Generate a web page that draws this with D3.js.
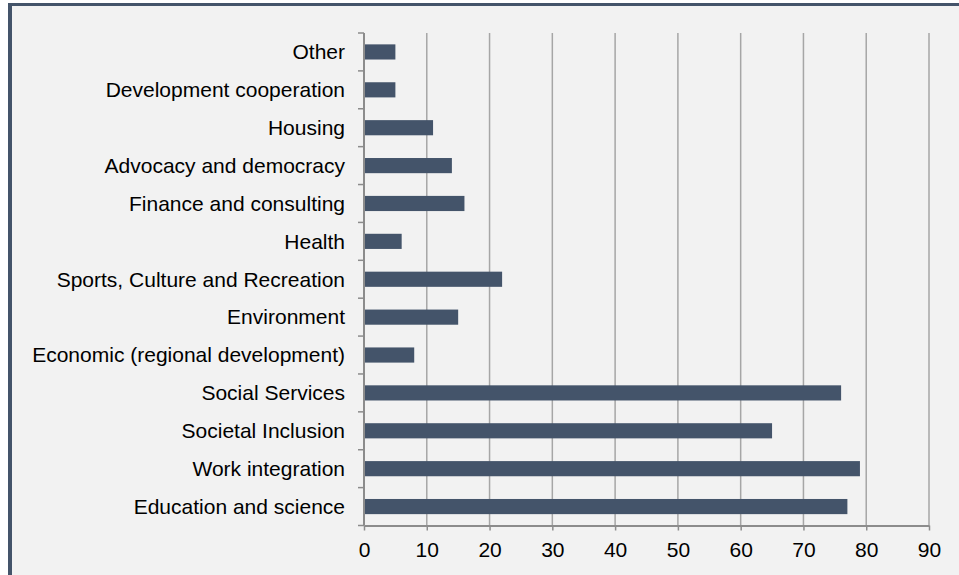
<!DOCTYPE html>
<html>
<head>
<meta charset="utf-8">
<script src="https://cdn.jsdelivr.net/npm/d3@7"></script>
<style>
  html, body { margin: 0; padding: 0; background: #ffffff; }
  svg { display: block; }
</style>
</head>
<body>
<div id="chart"></div>
<script>
// Fields of activity, listed top to bottom
const categories = [
  "Other",
  "Development cooperation",
  "Housing",
  "Advocacy and democracy",
  "Finance and consulting",
  "Health",
  "Sports, Culture and Recreation",
  "Environment",
  "Economic (regional development)",
  "Social Services",
  "Societal Inclusion",
  "Work integration",
  "Education and science"
];
const counts = [5, 5, 11, 14, 16, 6, 22, 15, 8, 76, 65, 79, 77];
const xTicks = [0, 10, 20, 30, 40, 50, 60, 70, 80, 90];

const W = 959, H = 575;
const margin = { left: 364, right: 30, top: 33, bottom: 49.5 };

const svg = d3.select("#chart").append("svg")
  .attr("width", W).attr("height", H);

// Panel background and frame
svg.append("rect").attr("x", 8).attr("y", 3).attr("width", W - 8).attr("height", H - 3)
  .attr("fill", "#f2f2f2");
svg.append("rect").attr("x", 8).attr("y", 3).attr("width", 4).attr("height", H - 3)
  .attr("fill", "#44546a");
svg.append("rect").attr("x", 8).attr("y", 3).attr("width", W - 8).attr("height", 3)
  .attr("fill", "#44546a");

const x = d3.scaleLinear().domain([0, 90]).range([margin.left, W - margin.right]);
const y = d3.scaleBand().domain(categories)
  .range([margin.top, H - margin.bottom]).paddingInner(0.6).paddingOuter(0.3);
const band = d3.scaleBand().domain(categories).range([margin.top, H - margin.bottom]);

const data = categories.map((c, i) => ({ name: c, value: counts[i] }));

// Vertical gridlines
svg.append("g").selectAll("line").data(xTicks.slice(1)).join("line")
  .attr("x1", d => x(d)).attr("x2", d => x(d))
  .attr("y1", margin.top).attr("y2", H - margin.bottom)
  .attr("stroke", "#a6a6a6").attr("stroke-width", 1.5);

// Bars
svg.append("g").selectAll("rect").data(data).join("rect")
  .attr("x", x(0)).attr("y", d => y(d.name))
  .attr("width", d => x(d.value) - x(0)).attr("height", y.bandwidth())
  .attr("fill", "#44546a");

const font = "'Liberation Sans', Arial, sans-serif";
const fontSize = "21px";

// Bottom axis
const xAxis = svg.append("g")
  .attr("transform", `translate(0,${H - margin.bottom})`)
  .call(d3.axisBottom(x).tickValues(xTicks).tickSize(5).tickPadding(12).tickSizeOuter(0));
xAxis.select(".domain").attr("stroke", "#8c8c8c").attr("stroke-width", 2);
xAxis.selectAll(".tick line").attr("stroke", "#8c8c8c").attr("stroke-width", 1.5);
xAxis.selectAll(".tick text").attr("fill", "#000").style("font-family", font).style("font-size", fontSize);

// Left axis: ticks at band boundaries, labels at band centres
const yAxisG = svg.append("g").attr("transform", `translate(${margin.left},0)`);
yAxisG.append("line")
  .attr("x1", 0).attr("x2", 0).attr("y1", margin.top).attr("y2", H - margin.bottom)
  .attr("stroke", "#8c8c8c").attr("stroke-width", 2);
const bounds = categories.map(c => band(c)).concat([H - margin.bottom]);
yAxisG.selectAll("line.tk").data(bounds).join("line").attr("class", "tk")
  .attr("x1", -6).attr("x2", 0).attr("y1", d => d).attr("y2", d => d)
  .attr("stroke", "#8c8c8c").attr("stroke-width", 1.5);
yAxisG.selectAll("text").data(categories).join("text")
  .attr("x", -19).attr("y", d => band(d) + band.bandwidth() / 2)
  .attr("dy", "0.35em").attr("text-anchor", "end")
  .style("font-family", font).style("font-size", fontSize).attr("fill", "#000")
  .text(d => d);
</script>
</body>
</html>
